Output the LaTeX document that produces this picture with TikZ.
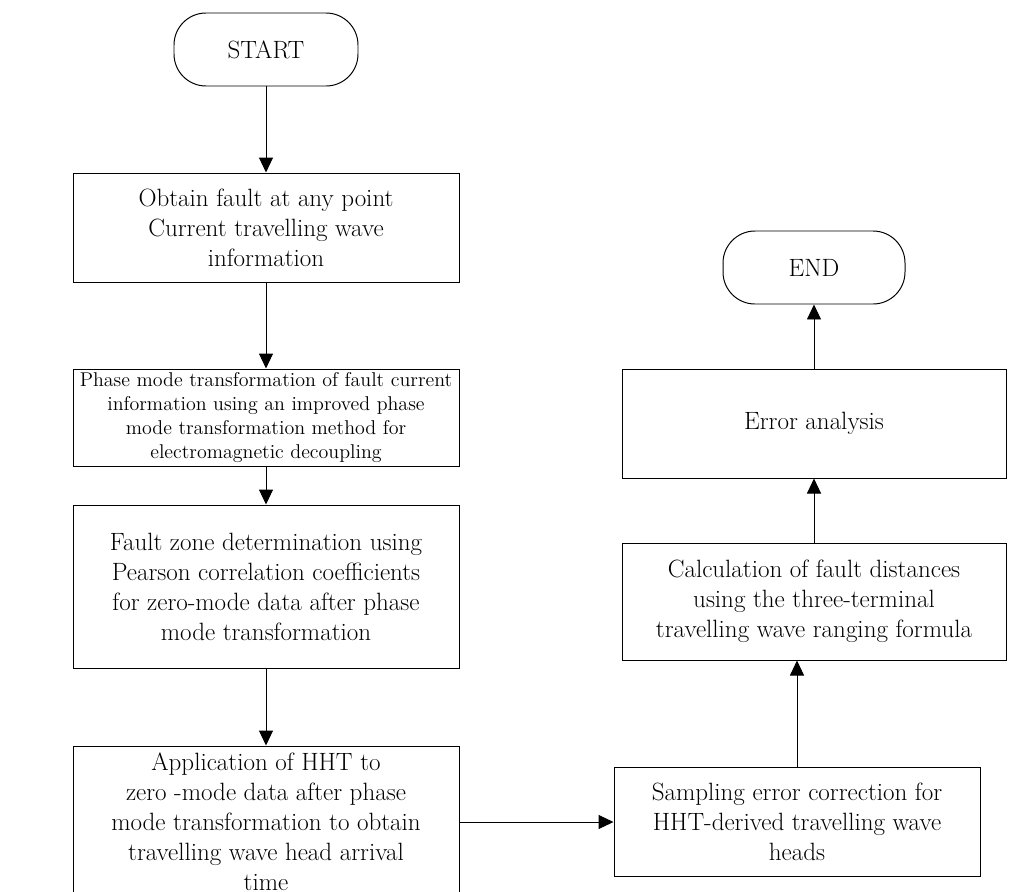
\documentclass[tikz,border=0pt]{standalone}
\usepackage{fontspec}
\usepackage{tikz}
\usetikzlibrary{arrows.meta, positioning}

\begin{document}
\begin{tikzpicture}[auto, line width=0.7pt]
		\tikzstyle{term} = [draw=black, rectangle, rounded corners=0.8cm, minimum width=4.6cm, minimum height=1.825cm, font=\fontsize{17.8}{21.3}\selectfont]
		\tikzstyle{block} = [draw=black, rectangle, align=center, inner xsep=2pt, inner ysep=2pt, font=\fontsize{17.8}{21.3}\selectfont]
		\tikzstyle{small} = [font=\fontsize{14.2}{17.1}\selectfont]
		\tikzstyle{arrow} = [-{Triangle[length=0.375cm, width=0.35cm]}]

		\useasboundingbox (0, 0) rectangle (25.225, -22.275);

		% left column
		\node[term] 	at (6.65, -1.2375)		(start) 	{START};
		\node[block, minimum width=9.65cm, minimum height=2.725cm] 	at (6.65, -5.6875)	(b1) 	{Obtain fault at any point\\Current travelling wave\\information};
		\node[block, small, minimum width=9.65cm, minimum height=2.425cm] 	at (6.65, -10.4375)	(b2) 	{Phase mode transformation of fault current\\information using an improved phase\\mode transformation method for\\electromagnetic decoupling};
		\node[block, minimum width=9.65cm, minimum height=4.075cm] 	at (6.65, -14.6625)	(b3) 	{Fault zone determination using\\Pearson correlation coefficients\\for zero-mode data after phase\\mode transformation};
		\node[block, minimum width=9.65cm, minimum height=3.8cm] 	at (6.65, -20.55)	(b4) 	{Application of HHT to\\zero -mode data after phase\\mode transformation to obtain\\travelling wave head arrival\\time};

		% right column
		\node[block, minimum width=9.15cm, minimum height=2.725cm] 	at (19.925, -20.55)	(b5) 	{Sampling error correction for\\HHT-derived travelling wave\\heads};
		\node[block, minimum width=9.6cm, minimum height=2.925cm] 	at (20.35, -15.0375)	(b6) 	{Calculation of fault distances\\using the three-terminal\\travelling wave ranging formula};
		\node[block, minimum width=9.6cm, minimum height=2.725cm] 	at (20.35, -10.5875)	(b7) 	{Error analysis};
		\node[term, minimum width=4.55cm] 	at (20.35, -6.6875)		(stop) 	{END};

		\draw[arrow] (start) -- (b1);
		\draw[arrow] (b1) -- (b2);
		\draw[arrow] (b2) -- (b3);
		\draw[arrow] (b3) -- (b4);
		\draw[arrow] (b4) -- (b5);
		\draw[arrow] (b5) -- (b5 |- b6.south);
		\draw[arrow] (b6) -- (b7);
		\draw[arrow] (b7) -- (stop);
	\end{tikzpicture}
\end{document}
